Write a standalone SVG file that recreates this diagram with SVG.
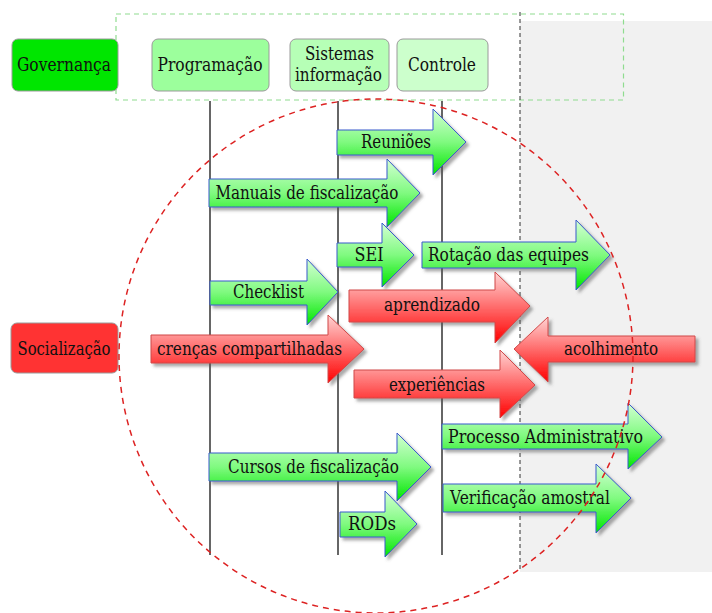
<svg xmlns="http://www.w3.org/2000/svg" width="712" height="613" viewBox="0 0 712 613">
<defs>
<linearGradient id="gG" x1="0" y1="0" x2="0" y2="1">
<stop offset="0" stop-color="#d4ffd4"/>
<stop offset="0.5" stop-color="#80fa80"/>
<stop offset="1" stop-color="#00e600"/>
</linearGradient>
<linearGradient id="gR" x1="0" y1="0" x2="0" y2="1">
<stop offset="0" stop-color="#ffd4d4"/>
<stop offset="0.5" stop-color="#ff6a6a"/>
<stop offset="1" stop-color="#ff0000"/>
</linearGradient>
<filter id="sh" x="-10%" y="-20%" width="130%" height="150%">
<feDropShadow dx="3" dy="3" stdDeviation="1.6" flood-color="#555" flood-opacity="0.5"/>
</filter>
</defs>
<style>
.t{font-family:'DejaVu Serif','Liberation Serif',serif;font-size:18px;fill:#111;text-anchor:middle}
.box{stroke:#9a9a9a;stroke-width:1}
.ga{fill:url(#gG);stroke:#3a5acc;stroke-width:1;filter:url(#sh)}
.ra{fill:url(#gR);stroke:#d04848;stroke-width:1;filter:url(#sh)}
.vl{stroke:#666;stroke-width:2;fill:none}
</style>
<rect x="520" y="21" width="192" height="551" fill="#f1f1f1"/>
<g id="frames">
<rect x="116" y="14" width="507.5" height="86" fill="none" stroke="#8fdc8f" stroke-width="1.2" stroke-dasharray="5,4"/>
<line x1="520" y1="12" x2="520" y2="572" stroke="#333" stroke-width="1" stroke-dasharray="4,3"/>
</g>
<g id="connectors">
<line class="vl" x1="210" y1="101" x2="210" y2="555"/>
<line class="vl" x1="338" y1="101" x2="338" y2="555"/>
<line class="vl" x1="442" y1="101" x2="442" y2="555"/>
</g>
<g class="t" font-family="DejaVu Serif, Liberation Serif, serif">
<g id="governanca"><rect class="box" x="12" y="39" width="106" height="52" rx="6" fill="#00e600"/><text x="64" y="71" textLength="94" lengthAdjust="spacingAndGlyphs">Governança</text></g>
<g id="programacao"><rect class="box" x="152" y="39" width="117" height="52" rx="6" fill="#9cff9c"/><text x="210" y="71" textLength="105" lengthAdjust="spacingAndGlyphs">Programação</text></g>
<g id="sistemas"><rect class="box" x="290" y="39" width="99" height="52" rx="6" fill="#b6ffb6"/><text x="339.5" y="60" textLength="69" lengthAdjust="spacingAndGlyphs">Sistemas</text><text x="338.5" y="81" textLength="87" lengthAdjust="spacingAndGlyphs">informação</text></g>
<g id="controle"><rect class="box" x="397" y="39" width="91" height="52" rx="6" fill="#ccffcc"/><text x="442" y="71" textLength="68" lengthAdjust="spacingAndGlyphs">Controle</text></g>
<g id="socializacao"><rect class="box" x="11" y="323" width="107" height="50" rx="6" fill="#ff3333"/><text x="64" y="355" textLength="93" lengthAdjust="spacingAndGlyphs">Socialização</text></g>
<g id="reunioes"><path class="ga" d="M337 130H433V109L466 142L433 175V155H337Z"/><text x="396" y="148" textLength="70" lengthAdjust="spacingAndGlyphs">Reuniões</text></g>
<g id="manuais"><path class="ga" d="M209 179H387V159L420 193L387 227V207H209Z"/><text x="307" y="199" textLength="183" lengthAdjust="spacingAndGlyphs">Manuais de fiscalização</text></g>
<g id="sei"><path class="ga" d="M337 243H382V223L414 255L382 287V267H337Z"/><text x="369" y="261" textLength="29" lengthAdjust="spacingAndGlyphs">SEI</text></g>
<g id="rotacao"><path class="ga" d="M422 242H576V220L610 255L576 290V268H422Z"/><text x="508.5" y="261" textLength="161" lengthAdjust="spacingAndGlyphs">Rotação das equipes</text></g>
<g id="checklist"><path class="ga" d="M210 281H307V259L338 292L307 325V305H210Z"/><text x="268.5" y="298" textLength="71" lengthAdjust="spacingAndGlyphs">Checklist</text></g>
<g id="aprendizado"><path class="ra" d="M349 290H495V272L530 306L495 343V322H349Z"/><text x="432" y="311" textLength="96" lengthAdjust="spacingAndGlyphs">aprendizado</text></g>
<g id="crencas"><path class="ra" d="M151 335H328V315L364 349L328 383V363H151Z"/><text x="249.5" y="355" textLength="185" lengthAdjust="spacingAndGlyphs">crenças compartilhadas</text></g>
<g id="acolhimento"><path class="ra" d="M695 336H548V317L514 349L548 382V362H695Z"/><text x="611" y="355" textLength="94" lengthAdjust="spacingAndGlyphs">acolhimento</text></g>
<g id="experiencias"><path class="ra" d="M354 370H500V350L535 385L500 418V398H354Z"/><text x="437" y="391" textLength="96" lengthAdjust="spacingAndGlyphs">experiências</text></g>
<g id="processo"><path class="ga" d="M442 424H628V403L662 437L628 469V449H442Z"/><text x="545.5" y="443" textLength="195" lengthAdjust="spacingAndGlyphs">Processo Administrativo</text></g>
<g id="cursos"><path class="ga" d="M209 453H397V433L431 467L397 501V481H209Z"/><text x="313.5" y="473" textLength="171" lengthAdjust="spacingAndGlyphs">Cursos de fiscalização</text></g>
<g id="verificacao"><path class="ga" d="M443 484H596V464L631 498L596 533V512H443Z"/><text x="530" y="504" textLength="160" lengthAdjust="spacingAndGlyphs">Verificação amostral</text></g>
<g id="rods"><path class="ga" d="M340 512H385V491L417 524L385 557V537H340Z"/><text x="372" y="530" textLength="48" lengthAdjust="spacingAndGlyphs">RODs</text></g>
</g>
<circle cx="376" cy="356" r="257" fill="none" stroke="#dd2222" stroke-width="1.5" stroke-dasharray="6,5"/>
</svg>
